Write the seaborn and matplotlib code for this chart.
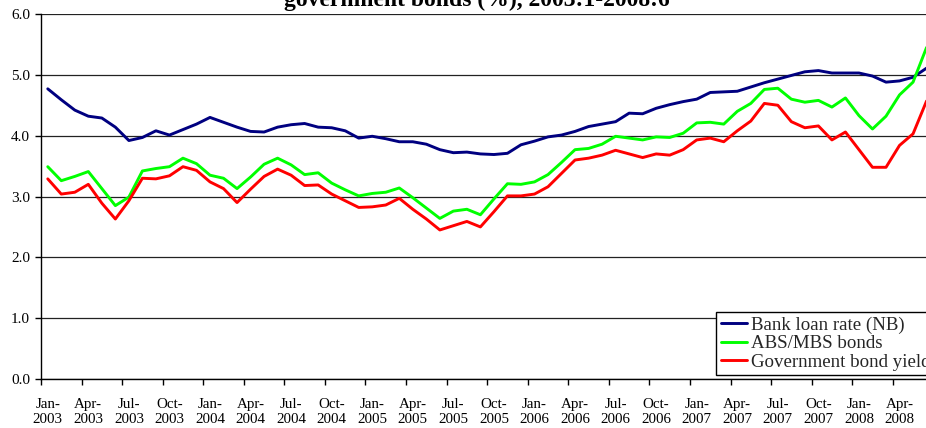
import matplotlib
matplotlib.use("Agg")
import matplotlib.pyplot as plt
from matplotlib.lines import Line2D
import numpy as np
import pandas as pd
import seaborn as sns

# ---------------- data (monthly, 2003:1 - 2008:6) ----------------
months = pd.date_range("2003-01-01", periods=66, freq="MS")

bank_loan_rate = [
    4.77, 4.59, 4.42, 4.32, 4.29, 4.14, 3.92, 3.97, 4.08, 4.01, 4.10, 4.19,
    4.30, 4.22, 4.14, 4.07, 4.06, 4.14, 4.18, 4.20, 4.14, 4.13, 4.08, 3.96,
    3.99, 3.95, 3.90, 3.90, 3.86, 3.77, 3.72, 3.73, 3.70, 3.69, 3.71, 3.85,
    3.91, 3.98, 4.01, 4.07, 4.15, 4.19, 4.23, 4.37, 4.36, 4.45, 4.51, 4.56,
    4.60, 4.71, 4.72, 4.73, 4.80, 4.87, 4.93, 4.99, 5.05, 5.07, 5.03, 5.03,
    5.03, 4.98, 4.88, 4.90, 4.96, 5.11,
]
abs_mbs_bonds = [
    3.49, 3.26, 3.33, 3.41, 3.13, 2.85, 2.99, 3.42, 3.46, 3.49, 3.63, 3.54,
    3.35, 3.30, 3.13, 3.32, 3.53, 3.63, 3.52, 3.36, 3.39, 3.22, 3.11, 3.01,
    3.05, 3.07, 3.14, 2.98, 2.81, 2.64, 2.76, 2.79, 2.70, 2.96, 3.21, 3.20,
    3.24, 3.36, 3.56, 3.77, 3.79, 3.86, 3.99, 3.96, 3.93, 3.98, 3.97, 4.04,
    4.21, 4.22, 4.19, 4.40, 4.53, 4.76, 4.78, 4.60, 4.55, 4.58, 4.47, 4.62,
    4.33, 4.11, 4.32, 4.67, 4.88, 5.45,
]
gov_bond_yield = [
    3.29, 3.04, 3.07, 3.20, 2.89, 2.63, 2.93, 3.30, 3.29, 3.34, 3.49, 3.43,
    3.24, 3.13, 2.90, 3.12, 3.33, 3.45, 3.35, 3.18, 3.19, 3.04, 2.93, 2.82,
    2.83, 2.86, 2.97, 2.79, 2.63, 2.45, 2.52, 2.59, 2.50, 2.75, 3.01, 3.01,
    3.04, 3.16, 3.38, 3.60, 3.63, 3.68, 3.76, 3.70, 3.64, 3.70, 3.68, 3.77,
    3.93, 3.96, 3.90, 4.08, 4.24, 4.53, 4.50, 4.23, 4.13, 4.16, 3.93, 4.06,
    3.77, 3.48, 3.48, 3.84, 4.03, 4.57,
]

series_names = ["Bank loan rate (NB)", "ABS/MBS bonds", "Government bond yield"]
series_colors = ["#000080", "#00FF00", "#FF0000"]
title_text = "government bonds (%), 2003:1-2008:6"
y_ticks = [0, 1, 2, 3, 4, 5, 6]

# ---------------- build long table ----------------
idx = np.arange(len(months))
wide = pd.DataFrame({
    "idx": idx,
    series_names[0]: bank_loan_rate,
    series_names[1]: abs_mbs_bonds,
    series_names[2]: gov_bond_yield,
})
df = wide.melt(id_vars="idx", var_name="series", value_name="value")

# ---------------- style ----------------
sns.set_theme(style="white")
plt.rcParams["font.family"] = ["Liberation Serif", "DejaVu Serif"]

fig = plt.figure(figsize=(9.26, 4.28), dpi=100)
W, H = 926.0, 428.0
x_left, x_right = 41.0, 41.0 + 66 * 13.52
y_top, y_bot = 14.0, 379.0
ax = fig.add_axes([x_left / W, 1 - y_bot / H, (x_right - x_left) / W, (y_bot - y_top) / H])

sns.lineplot(
    data=df, x="idx", y="value", hue="series",
    hue_order=series_names, palette=series_colors,
    linewidth=2.1, ax=ax, legend=False, sort=False,
)

ax.set_xlim(-0.5, len(months) - 0.5)
ax.set_ylim(0, 6)
ax.set_xlabel("")
ax.set_ylabel("")

# y axis
ax.set_yticks(y_ticks)
ax.set_yticklabels([f"{v:.1f}" for v in y_ticks])
ax.tick_params(axis="y", which="major", direction="out", length=4, width=1,
               color="black", labelsize=11, pad=4, labelcolor="black", left=True)
ax.yaxis.grid(True, color="#222222", linewidth=0.9)
ax.xaxis.grid(False)

# x axis: labels centred on categories, tick marks on category boundaries
label_pos = idx[::3]
labels = [f"{months[i].strftime('%b')}-\n{months[i].year}" for i in label_pos]
ax.set_xticks(label_pos)
ax.set_xticklabels(labels, linespacing=1.15)
ax.tick_params(axis="x", which="major", length=0, labelsize=10.8, pad=14,
               labelcolor="black")
ax.set_xticks(np.arange(-0.5, len(months), 3), minor=True)
ax.tick_params(axis="x", which="minor", direction="out", length=4, width=1,
               color="black", bottom=True)

for side in ["top", "right"]:
    ax.spines[side].set_visible(False)
for side in ["left", "bottom"]:
    ax.spines[side].set_color("black")
    ax.spines[side].set_linewidth(1.0)

# legend
handles = [Line2D([0], [0], color=c, lw=2.1) for c in series_colors]
leg = ax.legend(
    handles, series_names,
    loc="upper left", bbox_to_anchor=(716 / W, 1 - 312 / H),
    bbox_transform=fig.transFigure, borderaxespad=0,
    fontsize=13.6, frameon=True, fancybox=False, framealpha=1,
    edgecolor="black", borderpad=0.25, labelspacing=0.06,
    handlelength=1.4, handletextpad=0.18,
)
leg.get_frame().set_linewidth(1.0)

# title (only lower line visible, partly cut by the top edge as in the source)
fig.text(477 / W, 1 - 6 / H, title_text, ha="center", va="baseline",
         fontsize=17, fontweight="bold", color="black")

fig.savefig("out.png", dpi=100)
